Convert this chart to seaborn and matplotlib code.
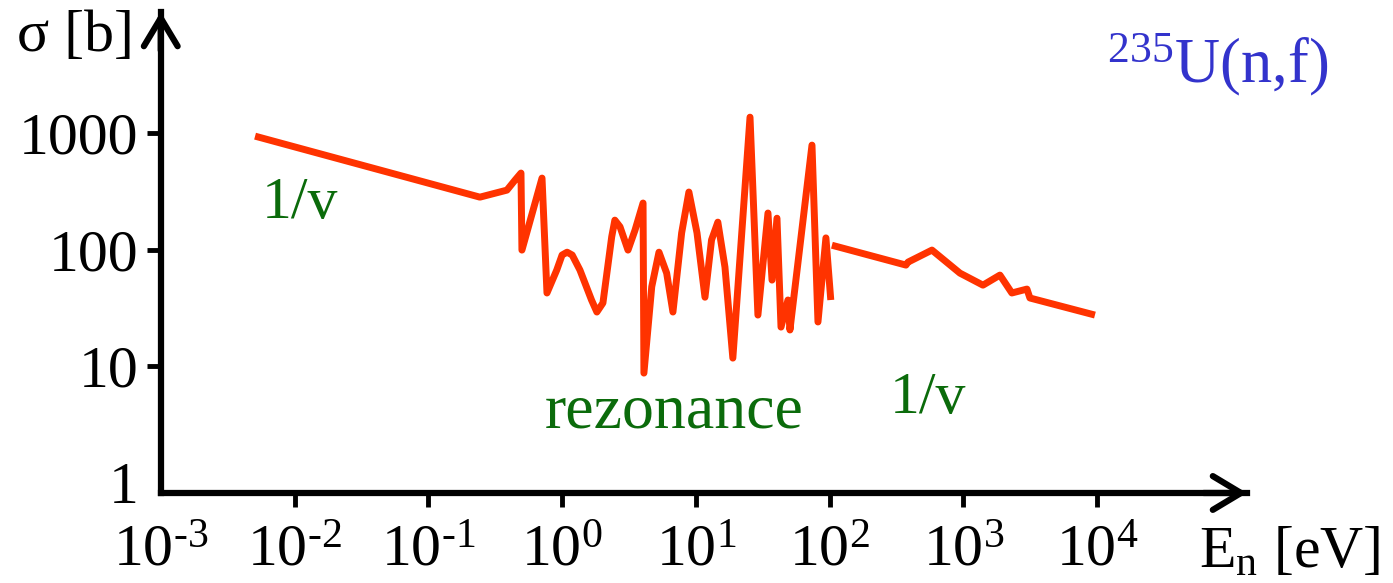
import matplotlib
matplotlib.use("Agg")
import matplotlib.pyplot as plt
import seaborn as sns

# 1/v part + resolved resonances (one continuous trace)
energy_res = [0.00507, 0.243, 0.387, 0.445, 0.493, 0.501, 0.708, 0.771, 0.912, 1.0,
              1.09, 1.19, 1.36, 1.66, 1.82, 2.02, 2.35, 2.48, 2.71, 3.11,
              3.51, 4.03, 4.09, 4.68, 5.30, 6.05, 6.74, 7.83, 8.87, 10.2,
              11.7, 13.1, 14.6, 16.5, 18.9, 25.4, 29.1, 34.6, 37.1, 40.4,
              43.3, 48.8, 50.5, 73.8, 81.8, 93.8, 102]
sigma_res = [942, 282, 324, 395, 454, 99, 411, 42.4, 66.7, 89.8,
             95, 89.8, 66.7, 36.9, 29.1, 34.8, 129, 179, 157, 99,
             147, 251, 8.7, 48, 95, 62.8, 29.1, 139, 312, 139,
             39, 121, 172, 70.8, 11.7, 1371, 27.4, 206, 54.7, 186,
             21.6, 36.9, 20.4, 789, 23.9, 126, 36.9]

# unresolved region, back to ~1/v
energy_unres = [104, 372, 385, 582, 942, 1400, 1875, 2302, 2985, 3141, 9620]
sigma_unres = [109, 73.6, 78, 99, 62.8, 49.5, 60.4, 42.4, 45.8, 38.4, 27.4]

x_ticks = [1e-3, 1e-2, 1e-1, 1e0, 1e1, 1e2, 1e3, 1e4]
x_tick_labels = [r"$\mathregular{10^{-3}}$", r"$\mathregular{10^{-2}}$",
                 r"$\mathregular{10^{-1}}$", r"$\mathregular{10^{0}}$",
                 r"$\mathregular{10^{1}}$", r"$\mathregular{10^{2}}$",
                 r"$\mathregular{10^{3}}$", r"$\mathregular{10^{4}}$"]
x_tick_labels = [t.replace("{-", r"{\text{-}") for t in x_tick_labels]
y_ticks = [1, 10, 100, 1000]
y_tick_labels = ["1", "10", "100", "1000"]

sns.set_style("ticks")
plt.rcParams["font.family"] = ["Liberation Serif", "DejaVu Serif"]
plt.rcParams["mathtext.fontset"] = "custom"
plt.rcParams["mathtext.rm"] = "Liberation Serif"
plt.rcParams["mathtext.it"] = "Liberation Serif:italic"
plt.rcParams["mathtext.bf"] = "Liberation Serif:bold"
plt.rcParams["text.color"] = "black"

line_color = "#ff3300"
green = "#0b6b0b"
blue = "#3333cc"

fig = plt.figure(figsize=(13.93, 5.83), dpi=100)
ax = fig.add_axes([0.1154, 0.1544, 0.7798, 0.8250])
ax.set_xscale("log")
ax.set_yscale("log")

for e, s in [(energy_res, sigma_res), (energy_unres, sigma_unres)]:
    sns.lineplot(x=e, y=s, ax=ax, color=line_color, lw=5, sort=False,
                 estimator=None, solid_joinstyle="round", solid_capstyle="butt")

ax.set_xlim(1e-3, 10 ** 5.12)
ax.set_ylim(10 ** -0.09, 10 ** 4.04)
ax.set_xticks(x_ticks)
ax.set_xticklabels(x_tick_labels)
ax.set_yticks(y_ticks)
ax.set_yticklabels(y_tick_labels)
ax.minorticks_off()
ax.tick_params(axis="both", length=10, width=3.5, labelsize=43, color="black",
               labelcolor="black")
ax.tick_params(axis="x", pad=13)
ax.tick_params(axis="y", pad=6)
ax.xaxis.get_major_ticks()[0].tick1line.set_visible(False)
ax.yaxis.get_major_ticks()[0].tick1line.set_visible(False)

sns.despine(ax=ax)
for side in ["left", "bottom"]:
    ax.spines[side].set_linewidth(4.5)
    ax.spines[side].set_color("black")
    ax.spines[side].set_capstyle("projecting")

arrow = dict(arrowstyle="->,head_length=0.45,head_width=0.27", lw=4.5, color="black",
             mutation_scale=45, shrinkA=0, shrinkB=0)
ax.annotate("", xy=(1, 0), xytext=(0.96, 0), xycoords="axes fraction",
            arrowprops=arrow, annotation_clip=False)
ax.annotate("", xy=(0, 1), xytext=(0, 0.92), xycoords="axes fraction",
            arrowprops=arrow, annotation_clip=False)

fig.text(0.054, 0.937, "σ [b]", ha="center", va="center", fontsize=43)
fig.text(0.861, 0.026, r"E$_\mathregular{n}$ [eV]", ha="left", va="baseline", fontsize=43)
fig.text(0.795, 0.859, r"$^{\mathregular{235}}$U(n,f)", color=blue, ha="left",
         va="baseline", fontsize=45)

fig.text(0.188, 0.626, "1/v", color=green, ha="left", va="baseline", fontsize=43)
fig.text(0.391, 0.266, "rezonance", color=green, ha="left", va="baseline", fontsize=46)
fig.text(0.639, 0.292, "1/v", color=green, ha="left", va="baseline", fontsize=43)

fig.savefig("out.png", dpi=100)
